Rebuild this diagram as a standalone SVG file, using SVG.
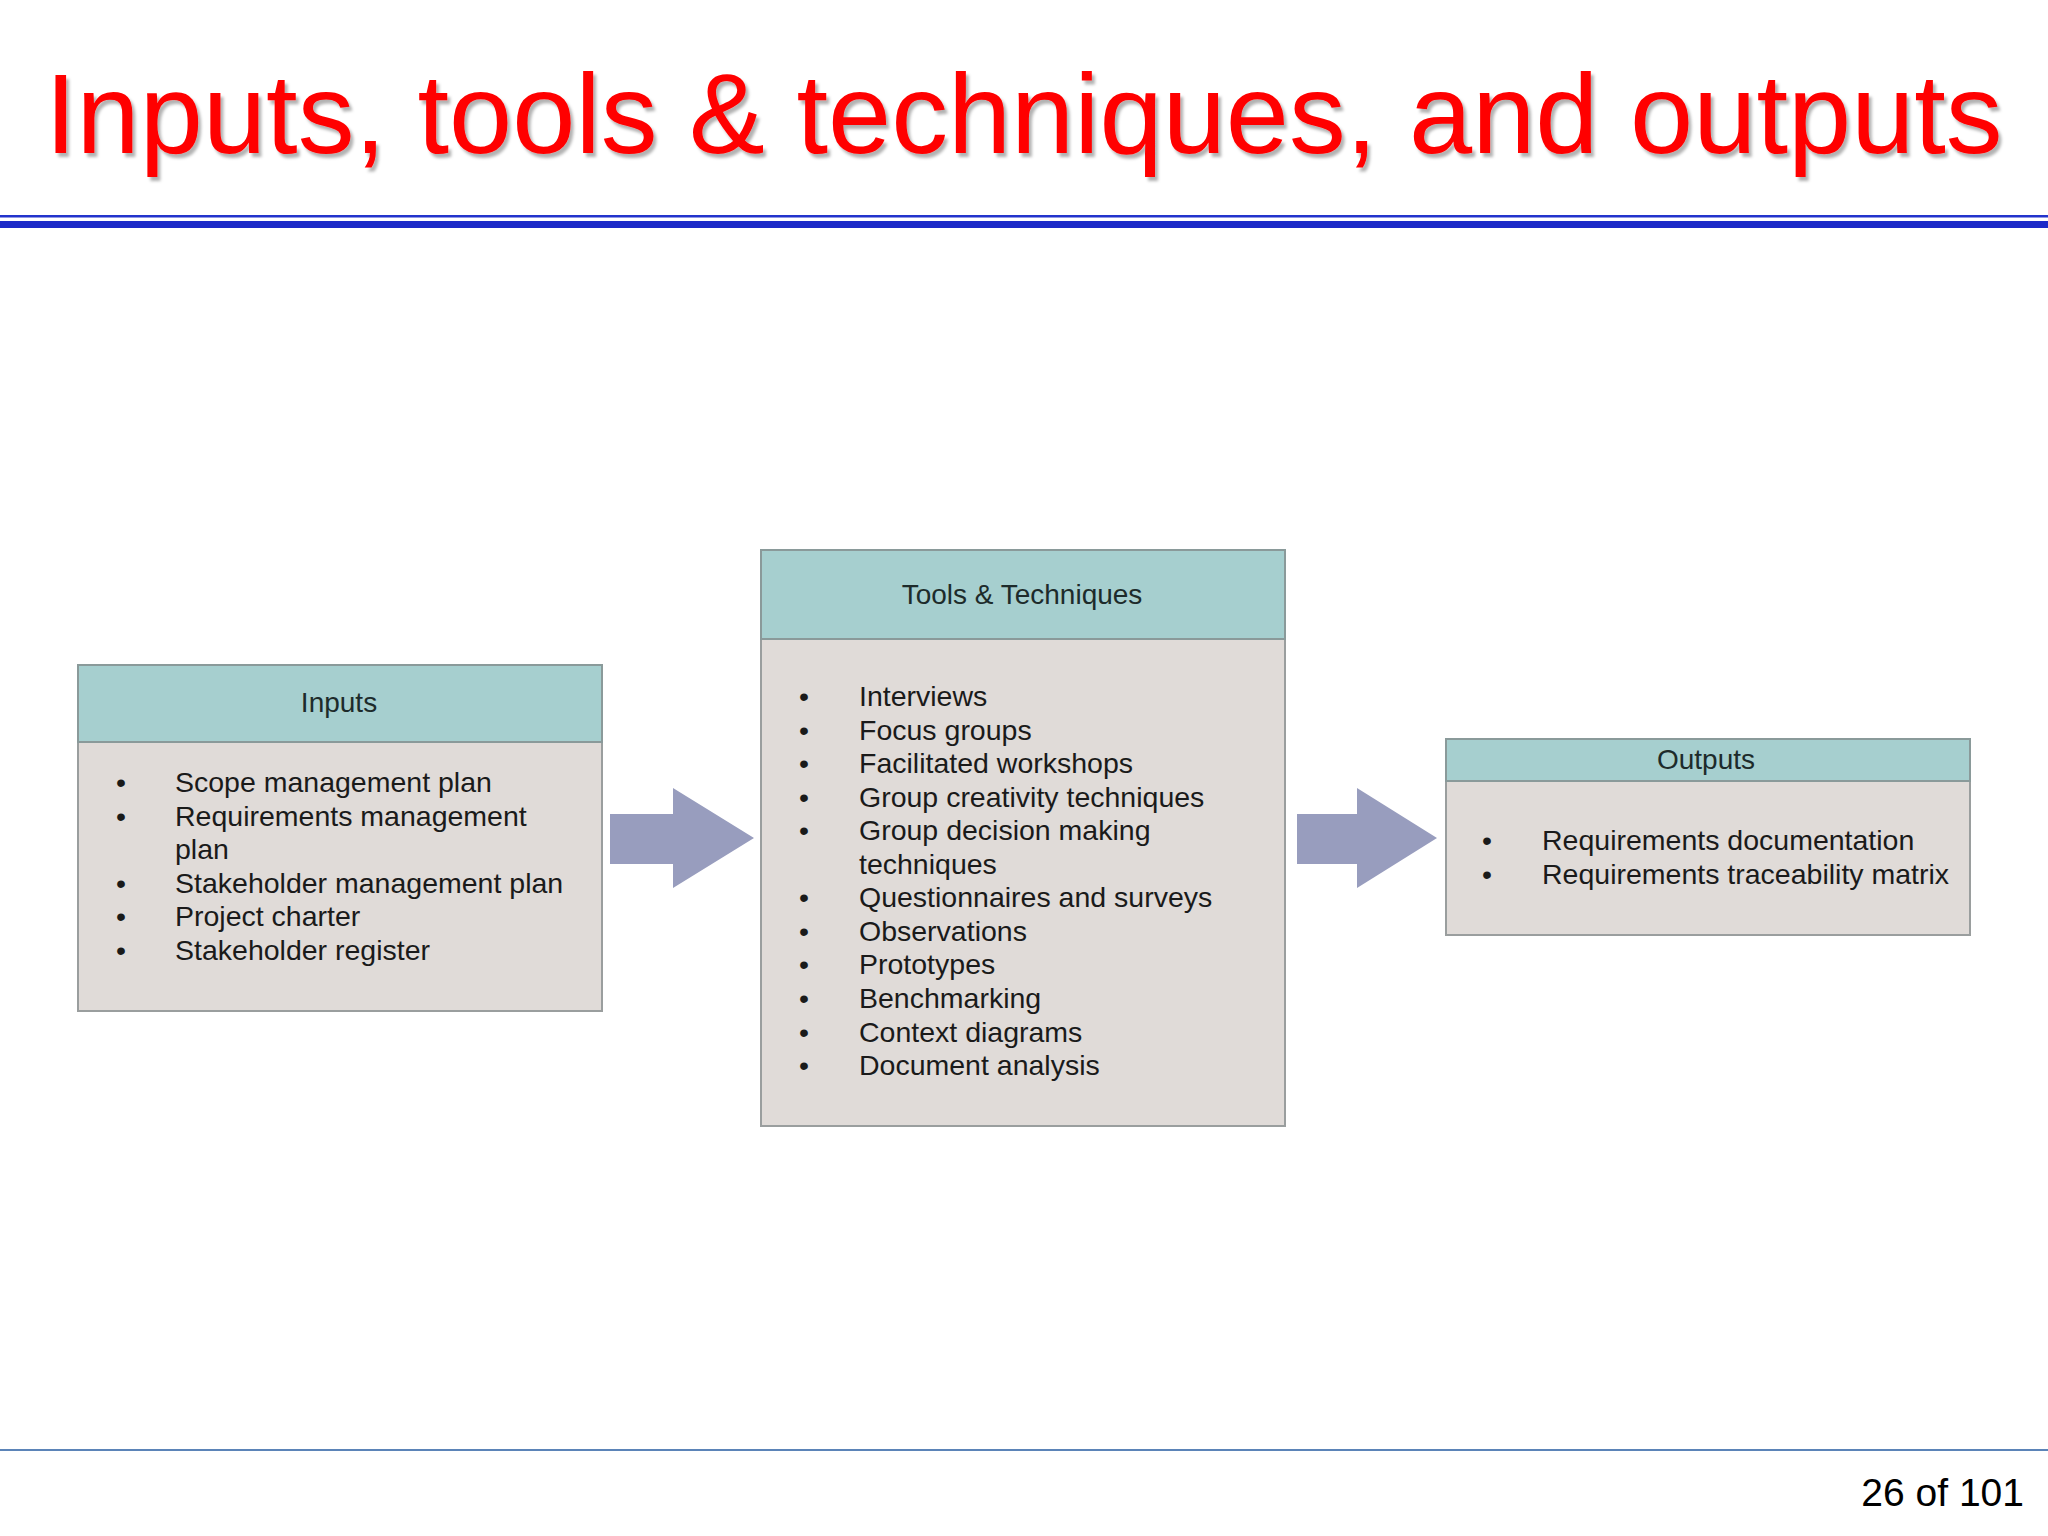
<svg xmlns="http://www.w3.org/2000/svg" width="2048" height="1536" viewBox="0 0 2048 1536">
<defs>
<filter id="tshadow" x="-5%" y="-20%" width="110%" height="150%">
<feDropShadow dx="3" dy="4" stdDeviation="1.5" flood-color="#000000" flood-opacity="0.3"/>
</filter>
<style>
.title{font-family:"Liberation Sans",Arial,sans-serif;font-size:113.6px;fill:#ff0000;}
.head{font-family:"Liberation Sans",Arial,sans-serif;font-size:28px;fill:#1d2b2b;text-anchor:middle;}
.item{font-family:"Liberation Sans",Arial,sans-serif;font-size:28.5px;fill:#1a1a1a;}
.hdr{fill:#a6cfcf;stroke:#8a9a9a;stroke-width:2;}
.body{fill:#e0dbd8;stroke:#9a9e9e;stroke-width:2;}
.arrow{fill:#989dbe;}
.pg{font-family:"Liberation Sans",Arial,sans-serif;font-size:39px;fill:#000000;text-anchor:end;}
</style>
</defs>
<rect x="0" y="0" width="2048" height="1536" fill="#ffffff"/>

<g id="title">
<text class="title" x="45" y="153" filter="url(#tshadow)">Inputs, tools &amp; techniques, and outputs</text>
<rect x="0" y="215" width="2048" height="2.5" fill="#2233cc"/>
<rect x="0" y="221" width="2048" height="7" fill="#1c2ac8"/>
</g>

<g id="inputs">
<rect class="body" x="78" y="665" width="524" height="346"/>
<rect class="hdr" x="78" y="665" width="524" height="77"/>
<text class="head" x="339" y="712">Inputs</text>
<g class="item">
<text x="116" y="792">•</text><text x="175" y="792">Scope management plan</text>
<text x="116" y="826">•</text><text x="175" y="826">Requirements management</text>
<text x="175" y="859">plan</text>
<text x="116" y="893">•</text><text x="175" y="893">Stakeholder management plan</text>
<text x="116" y="926">•</text><text x="175" y="926">Project charter</text>
<text x="116" y="960">•</text><text x="175" y="960">Stakeholder register</text>
</g>
</g>

<g id="tools">
<rect class="body" x="761" y="550" width="524" height="576"/>
<rect class="hdr" x="761" y="550" width="524" height="89"/>
<text class="head" x="1022" y="604">Tools &amp; Techniques</text>
<g class="item">
<text x="799" y="706">•</text><text x="859" y="706">Interviews</text>
<text x="799" y="740">•</text><text x="859" y="740">Focus groups</text>
<text x="799" y="773">•</text><text x="859" y="773">Facilitated workshops</text>
<text x="799" y="807">•</text><text x="859" y="807">Group creativity techniques</text>
<text x="799" y="840">•</text><text x="859" y="840">Group decision making</text>
<text x="859" y="874">techniques</text>
<text x="799" y="907">•</text><text x="859" y="907">Questionnaires and surveys</text>
<text x="799" y="941">•</text><text x="859" y="941">Observations</text>
<text x="799" y="974">•</text><text x="859" y="974">Prototypes</text>
<text x="799" y="1008">•</text><text x="859" y="1008">Benchmarking</text>
<text x="799" y="1042">•</text><text x="859" y="1042">Context diagrams</text>
<text x="799" y="1075">•</text><text x="859" y="1075">Document analysis</text>
</g>
</g>

<g id="outputs">
<rect class="body" x="1446" y="739" width="524" height="196"/>
<rect class="hdr" x="1446" y="739" width="524" height="42"/>
<text class="head" x="1706" y="769">Outputs</text>
<g class="item">
<text x="1482" y="850">•</text><text x="1542" y="850">Requirements documentation</text>
<text x="1482" y="884">•</text><text x="1542" y="884">Requirements traceability matrix</text>
</g>
</g>

<g id="connectors">
<polygon class="arrow" points="610,814 673,814 673,788 754,838 673,888 673,864 610,864"/>
<polygon class="arrow" points="1297,814 1357,814 1357,788 1437,838 1357,888 1357,864 1297,864"/>
</g>

<g id="footer">
<rect x="0" y="1449" width="2048" height="2" fill="#5b84b8"/>
<text class="pg" x="2024" y="1506">26 of 101</text>
</g>
</svg>
